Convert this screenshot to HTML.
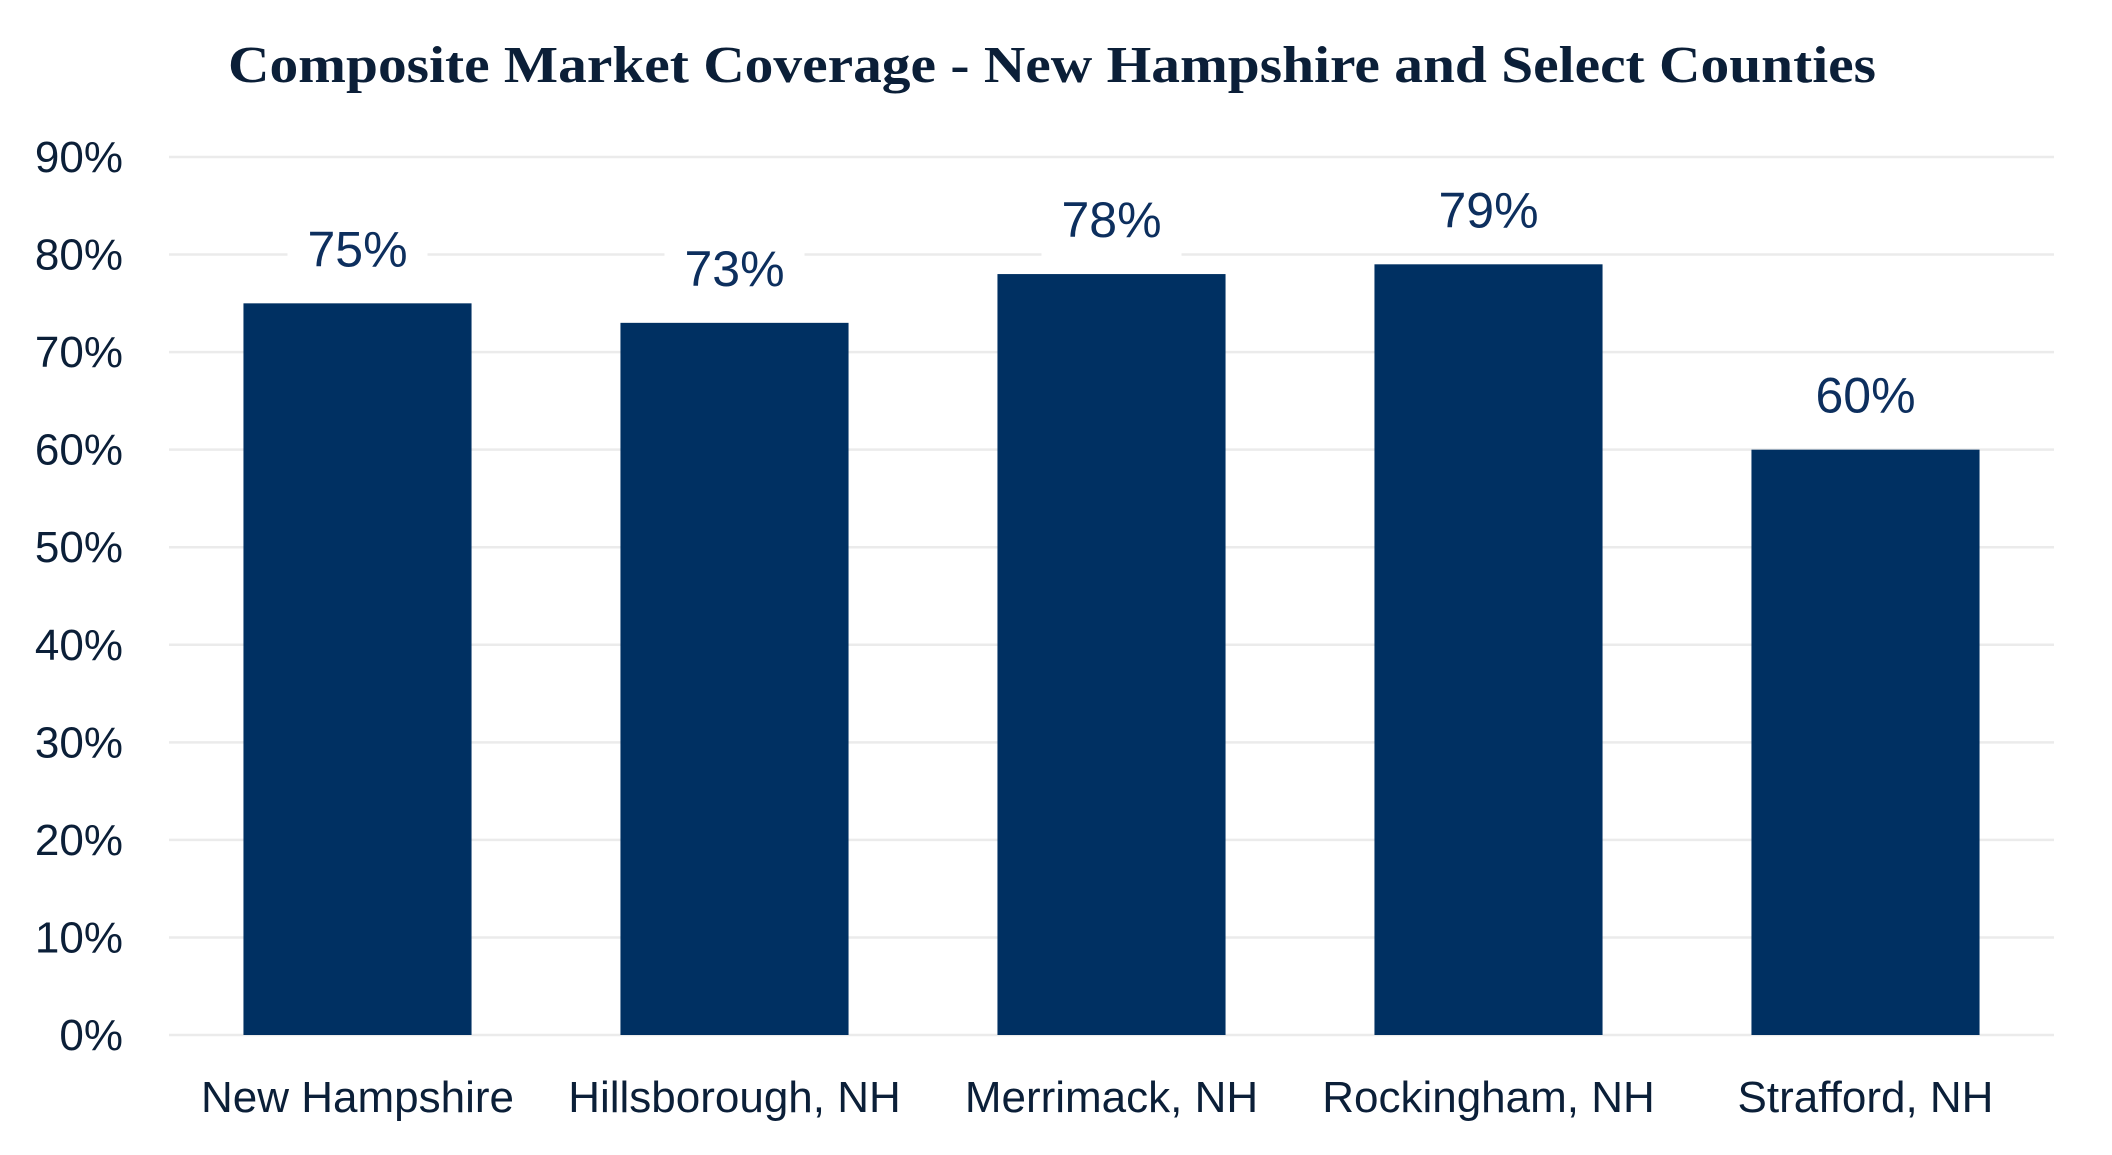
<!DOCTYPE html>
<html><head><meta charset="utf-8"><style>
html,body{margin:0;padding:0;background:#fff;}
svg{display:block;}
</style></head><body>
<svg id="chart" width="2112" height="1155" xmlns="http://www.w3.org/2000/svg">
<text x="1052" y="82" text-anchor="middle" font-family="Liberation Serif, serif" font-size="52" font-weight="bold" fill="#0b1f38" textLength="1648" lengthAdjust="spacingAndGlyphs">Composite Market Coverage - New Hampshire and Select Counties</text>
<g id="grid"></g>
<g id="ticks"></g>
<g id="bars"></g>
<g id="labels"></g>
<g id="xlabels"></g>
</svg>
<script>
const categories = ["New Hampshire","Hillsborough, NH","Merrimack, NH","Rockingham, NH","Strafford, NH"];
const values = [75,73,78,79,60];
const tickValues = [0,10,20,30,40,50,60,70,80,90];
const tickLabels = ["0%","10%","20%","30%","40%","50%","60%","70%","80%","90%"];
const valueLabels = ["75%","73%","78%","79%","60%"];

const NS="http://www.w3.org/2000/svg";
const left=169,right=2054,y0=1035,yTop=157,maxV=90;
const y=v=>y0-(v/maxV)*(y0-yTop);
const band=(right-left)/categories.length;
const bw=band*0.605;
const xc=i=>left+band*(i+0.5);
function mk(tag,attrs,parent){const e=document.createElementNS(NS,tag);for(const k in attrs)e.setAttribute(k,attrs[k]);parent.appendChild(e);return e;}
const grid=document.getElementById('grid'),ticks=document.getElementById('ticks'),bars=document.getElementById('bars'),labels=document.getElementById('labels'),xl=document.getElementById('xlabels');
tickValues.forEach((t,i)=>{
  const l=mk('line',{x1:left,x2:right,y1:y(t),y2:y(t),stroke:'#ebebeb','stroke-width':2.5},grid);
  
  
  const tx=mk('text',{x:123,y:y(t)+15,'text-anchor':'end','font-family':'Liberation Sans, sans-serif','font-size':44,fill:'#0b1f38'},ticks);
  tx.textContent=tickLabels[i];
  
  
});
values.forEach((v,i)=>{
  const r=mk('rect',{x:xc(i)-bw/2,y:y(v),width:bw,height:y0-y(v),fill:'#003062'},bars);
  
  
  const bg=mk('rect',{x:xc(i)-70,y:y(v)-82,width:140,height:66,fill:'#fff'},labels);
  
  
  const t=mk('text',{x:xc(i),y:y(v)-37,'text-anchor':'middle','font-family':'Liberation Sans, sans-serif','font-size':50,fill:'#0d2f5e'},labels);
  t.textContent=valueLabels[i];
  
  
  const c=mk('text',{x:xc(i),y:1112,'text-anchor':'middle','font-family':'Liberation Sans, sans-serif','font-size':44,fill:'#0b1f38'},xl);
  c.textContent=categories[i];
  
  
});
</script>
</body></html>
